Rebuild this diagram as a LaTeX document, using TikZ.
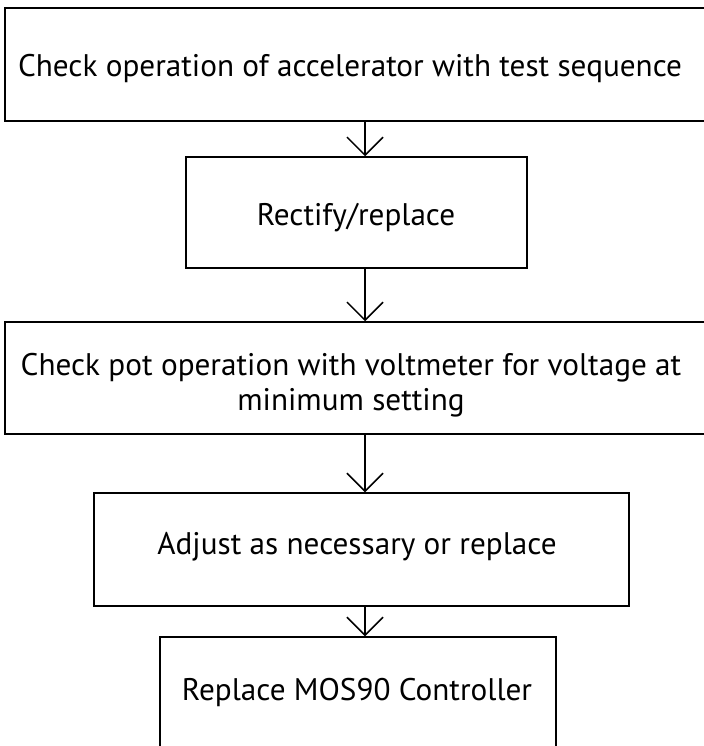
\documentclass[tikz,border=0pt]{standalone}
\usepackage{fontspec}
\setmainfont{PT Sans}
\usetikzlibrary{arrows.meta}
\newlength\reflen
\begin{document}
\settowidth\reflen{\fontsize{10bp}{12bp}\selectfont Check operation of accelerator with test sequence}%
\pgfmathsetmacro\fs{10*664*1.00374/\reflen}%
\pgfmathsetmacro\bs{\fs*1.12}%
\def\boxfont{\fontsize{\fs bp}{\bs bp}\selectfont}%
\begin{tikzpicture}[x=1bp,y=-1bp,
  flowbox/.style={draw, line width=1.5bp, inner sep=0pt},
  txt/.style={inner sep=0pt, align=center, font=\boxfont},
  conn/.style={line width=1.5bp, -{Straight Barb[length=18bp,width=36bp]}}]
\useasboundingbox (0,0) rectangle (704,746);
\clip (0,0) rectangle (704,746);
\node[flowbox, minimum width=702bp, minimum height=113bp] (b1) at (356,64.5) {};
\node[flowbox, minimum width=341bp, minimum height=111bp] (b2) at (356.5,212.5) {};
\node[flowbox, minimum width=702bp, minimum height=112bp] (b3) at (356,378) {};
\node[flowbox, minimum width=535bp, minimum height=113bp] (b4) at (361.5,549.5) {};
\node[flowbox, minimum width=396bp, minimum height=124bp] (b5) at (358,699) {};
\node[txt] (t1) at (350,69) {Check operation of accelerator with test sequence};
\node[txt] (t2) at (356,218) {Rectify/replace};
\node[txt] (t3) at (351,385) {Check pot operation with voltmeter for voltage at\\minimum setting};
\node[txt] (t4) at (357,547) {Adjust as necessary or replace};
\node[txt] (t5) at (357,692) {Replace MOS90 Controller};
\coordinate (ax) at (365,0);
\draw[conn] (b1.south -| ax) -- (b2.north -| ax);
\draw[conn] (b2.south -| ax) -- (b3.north -| ax);
\draw[conn] (b3.south -| ax) -- (b4.north -| ax);
\draw[conn] (b4.south -| ax) -- (b5.north -| ax);
\end{tikzpicture}
\end{document}
